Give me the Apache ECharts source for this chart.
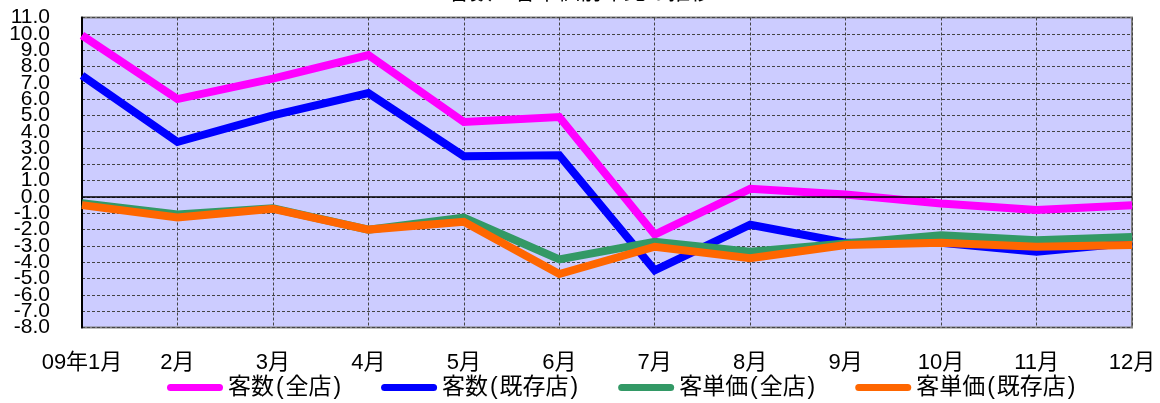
<!DOCTYPE html>
<html>
<head>
<meta charset="utf-8">
<script src="https://cdn.jsdelivr.net/npm/echarts@6/dist/echarts.min.js"></script>
<style>
    html, body {margin: 0; padding: 0; background: #fff;}
    #graph {width: 1160px; height: 403px;}
</style>
</head>
<body>
<div id="graph"></div>
<script>
// 月ラベル
var months = ['09年1月', '2月', '3月', '4月', '5月', '6月', '7月', '8月', '9月', '10月', '11月', '12月'];
// 前年比(%)
var kyakusuZen = [9.9, 6.0, 7.25, 8.7, 4.6, 4.9, -2.3, 0.5, 0.15, -0.4, -0.8, -0.5];
var kyakusuKizon = [7.45, 3.37, 5.0, 6.37, 2.5, 2.56, -4.5, -1.7, -2.8, -2.8, -3.35, -2.8];
var tankaZen = [-0.38, -1.08, -0.7, -2.0, -1.26, -3.83, -2.75, -3.35, -2.85, -2.35, -2.65, -2.45];
var tankaKizon = [-0.5, -1.25, -0.72, -2.0, -1.52, -4.72, -3.05, -3.75, -2.95, -2.8, -3.05, -2.95];
var legendNames = ['客数(全店)', '客数(既存店)', '客単価(全店)', '客単価(既存店)'];
var colors = ['#FF00FF', '#0000FF', '#339966', '#FF6600'];
var yMin = -8, yMax = 11;

var font = "'Liberation Sans', 'Noto Sans CJK JP', sans-serif";
var capsule = 'path://M3.5,0 H52.5 A3.5,3.5 0 0 1 52.5,7 H3.5 A3.5,3.5 0 0 1 3.5,0 Z';

function makeSeries(name, data, color) {
    return {
        name: name,
        type: 'line',
        data: data,
        symbol: 'none',
        lineStyle: {color: color, width: 8, cap: 'butt', join: 'miter'},
        itemStyle: {color: color}
    };
}

var series = [
    makeSeries(legendNames[0], kyakusuZen, colors[0]),
    makeSeries(legendNames[1], kyakusuKizon, colors[1]),
    makeSeries(legendNames[2], tankaZen, colors[2]),
    makeSeries(legendNames[3], tankaKizon, colors[3])
];
// ゼロ線
series[0].markLine = {
    silent: true,
    symbol: 'none',
    label: {show: false},
    lineStyle: {color: '#000', type: 'solid', width: 1.5},
    data: [{yAxis: 0}]
};

var labelStyle = {fontSize: 21, color: '#000', margin: 32};

var chart = echarts.init(document.getElementById('graph'));
chart.setOption({
    animation: false,
    textStyle: {fontFamily: font},
    title: {
        text: '客数・客単価前年比の推移',
        left: 'center',
        top: -23,
        textStyle: {fontSize: 22, fontWeight: 'normal', color: '#000', fontFamily: font}
    },
    grid: {
        left: 82, right: 28, top: 17.5, bottom: 75.5,
        show: true,
        backgroundColor: '#CCCCFF',
        borderColor: '#808080',
        borderWidth: 2
    },
    legend: {
        data: legendNames.map(function (n, i) {
            return {name: n, icon: capsule, itemStyle: {color: colors[i]}};
        }),
        left: 167,
        top: 376,
        padding: 0,
        itemWidth: 56,
        itemHeight: 7,
        itemGap: 40,
        formatter: function (name) {
            // かっこの幅を元の図に合わせる
            return name.replace('(', '{p|(}').replace(')', '{p|)}');
        },
        textStyle: {
            fontSize: 23, color: '#000', fontFamily: font,
            rich: {p: {fontSize: 23, fontFamily: font, width: 11.5, align: 'center', color: '#000'}}
        }
    },
    xAxis: {
        type: 'category',
        data: months,
        boundaryGap: false,
        axisLine: {show: false, onZero: false},
        axisTick: {show: false},
        axisLabel: {fontSize: 22, color: '#000', margin: 24, interval: 0},
        splitLine: {show: true, lineStyle: {color: '#444', type: [3, 2], width: 1}}
    },
    yAxis: [{
        type: 'value',
        min: yMin,
        max: yMax,
        interval: 1,
        axisLine: {show: true, lineStyle: {color: '#000', width: 2}},
        axisTick: {show: false},
        axisLabel: Object.assign({}, labelStyle, {
            showMinLabel: false, showMaxLabel: false,
            formatter: function (v) { return v.toFixed(1); }
        }),
        splitLine: {show: true, lineStyle: {color: '#444', type: [3, 2], width: 1}}
    }, {
        // 上端・下端のラベルだけ（重なりで消されないように別軸）
        type: 'value',
        position: 'left',
        min: yMin,
        max: yMax,
        interval: 1,
        axisLine: {show: false},
        axisTick: {show: false},
        splitLine: {show: false},
        axisLabel: Object.assign({}, labelStyle, {
            showMinLabel: true, showMaxLabel: true,
            formatter: function (v) { return (v === yMin || v === yMax) ? v.toFixed(1) : ''; }
        })
    }],
    series: series
});
</script>
</body>
</html>
